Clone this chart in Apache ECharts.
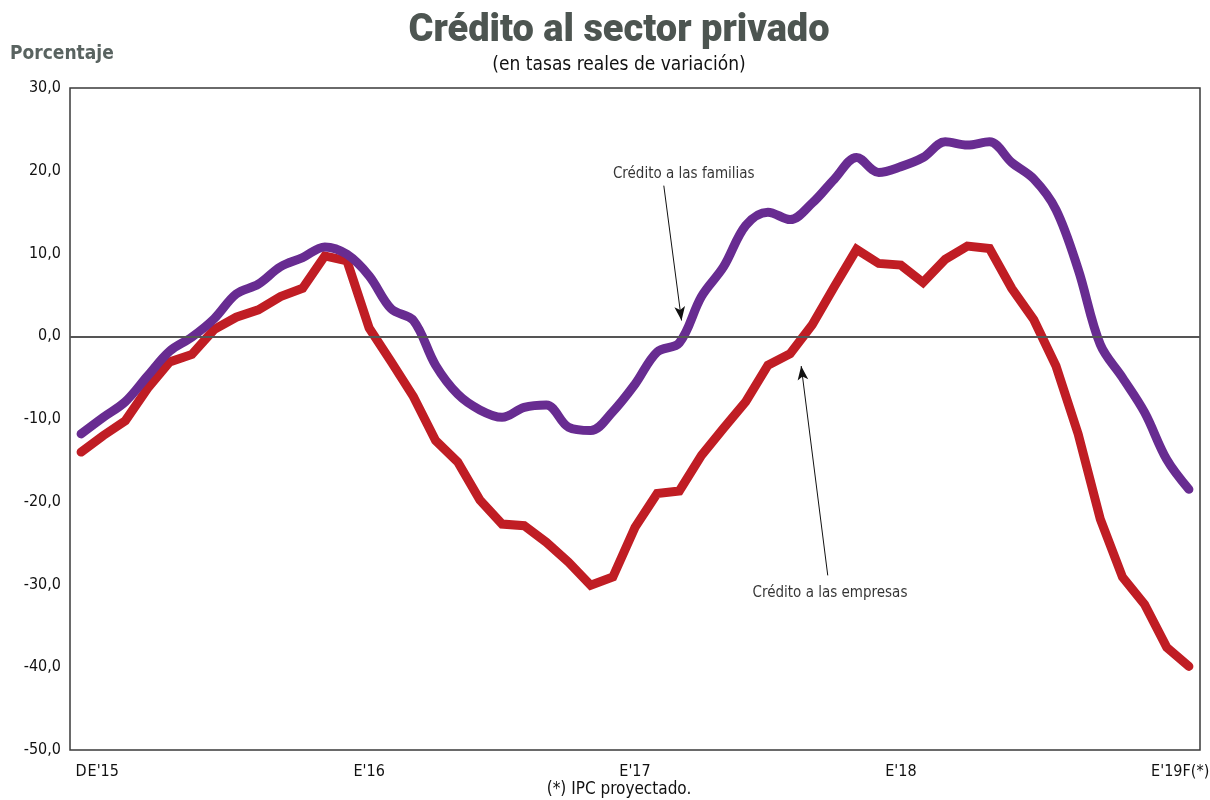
<!DOCTYPE html>
<html>
<head>
<meta charset="utf-8">
<script src="https://cdn.jsdelivr.net/npm/echarts@6/dist/echarts.min.js"></script>
<style>
  html, body { margin: 0; padding: 0; background: #ffffff; }
  #chart { width: 1210px; height: 800px; }
</style>
</head>
<body>
<div id="chart"></div>
<script>
// Monthly observations, December 2014 to February 2019
const categories = [
  "D'14","E'15","F'15","M'15","A'15","M'15","J'15","J'15","A'15","S'15","O'15","N'15","D'15",
  "E'16","F'16","M'16","A'16","M'16","J'16","J'16","A'16","S'16","O'16","N'16","D'16",
  "E'17","F'17","M'17","A'17","M'17","J'17","J'17","A'17","S'17","O'17","N'17","D'17",
  "E'18","F'18","M'18","A'18","M'18","J'18","J'18","A'18","S'18","O'18","N'18","D'18",
  "E'19","F'19"
];

// Labels printed under the horizontal axis ('' = no label)
const tickLabels = categories.map(function (c, i) {
  if (i === 0) return 'D';
  if (i === categories.length - 1) return 'F(*)';
  return c.charAt(0) === 'E' && c.length === 4 ? c : '';
});

// Real annual growth rates, %
const familias = [
  -11.8, -9.8, -7.9, -4.8, -1.8, -0.1, 2.1, 5.1, 6.3, 8.4, 9.5, 10.8, 9.9,
  7.3, 3.3, 1.9, -3.5, -7.0, -8.9, -9.8, -8.6, -8.3, -11.0, -11.4, -9.1,
  -5.8, -1.9, -0.8, 4.8, 8.4, 13.4, 15.0, 14.1, 16.1, 19.0, 21.6, 19.8,
  20.5, 21.6, 23.5, 23.1, 23.5, 21.0, 19.0, 15.3, 8.1, -1.0, -5.0, -9.2,
  -14.9, -18.5
];

const empresas = [
  -14.0, -12.0, -10.2, -6.3, -3.1, -2.2, 0.8, 2.3, 3.2, 4.8, 5.8, 9.7, 9.1,
  1.0, -3.1, -7.3, -12.6, -15.2, -19.8, -22.7, -22.9, -24.9, -27.3, -30.1, -29.1,
  -23.1, -19.0, -18.7, -14.4, -11.1, -7.9, -3.5, -2.1, 1.4, 6.0, 10.5, 8.8,
  8.6, 6.5, 9.3, 10.9, 10.6, 5.8, 2.0, -3.6, -11.8, -22.1, -29.1, -32.4,
  -37.6, -39.9
];

// Y axis range
const yMin = -50, yMax = 30, yStep = 10;

// Series callouts: text anchor and arrow (month index, value)
const callouts = [
  { text: 'Crédito a las familias', anchor: [27.2, 19.6], from: [26.3, 18.2], to: [27.1, 1.9] },
  { text: 'Crédito a las empresas', anchor: [33.8, -31.0], from: [33.7, -28.9], to: [32.5, -3.6] }
];

const FONT = "'DejaVu Sans Condensed', 'Liberation Sans Narrow', sans-serif";
const INK = '#111111';

const chart = echarts.init(document.getElementById('chart'), null, { renderer: 'canvas' });

chart.setOption({
  animation: false,
  backgroundColor: '#ffffff',
  textStyle: { fontFamily: FONT },
  title: [
    {
      text: 'Crédito al sector privado',
      left: 619, top: 12, textAlign: 'center', padding: 0,
      textStyle: { fontFamily: "Roboto, 'Open Sans', sans-serif", fontWeight: 900, fontSize: 38, color: '#4d5551' }
    },
    {
      text: '(en tasas reales de variación)',
      left: 619, top: 56, textAlign: 'center', padding: 0,
      textStyle: { fontFamily: FONT, fontWeight: 'normal', fontSize: 19, color: INK }
    },
    {
      text: 'Porcentaje',
      left: 10, top: 45, padding: 0,
      textStyle: { fontFamily: FONT, fontWeight: 'bold', fontSize: 19, color: '#596360' }
    },
    {
      text: '(*) IPC proyectado.',
      left: 619, top: 781, textAlign: 'center', padding: 0,
      textStyle: { fontFamily: FONT, fontWeight: 'normal', fontSize: 17, color: INK }
    }
  ],
  grid: {
    left: 70, right: 10, top: 88, bottom: 50,
    outerBoundsMode: 'none',
    containLabel: false,
    show: true, borderColor: '#3a3a3a', borderWidth: 1.5, backgroundColor: 'transparent'
  },
  xAxis: [
    {
      type: 'category',
      data: categories,
      boundaryGap: true,
      axisLine: { show: false },
      axisTick: { show: false },
      splitLine: { show: false },
      axisLabel: {
        interval: 0,
        margin: 14,
        fontFamily: FONT, fontSize: 16, color: INK,
        formatter: function (v, i) {
          if (i === categories.length - 1) return '{last|' + tickLabels[i] + '}';
          return tickLabels[i];
        },
        rich: {
          last: { fontFamily: FONT, fontSize: 16, color: INK, padding: [0, 0, 0, 14] }
        }
      }
    },
    {
      type: 'value', show: false,
      min: -0.5, max: categories.length - 0.5
    }
  ],
  yAxis: {
    type: 'value',
    min: yMin, max: yMax, interval: yStep,
    axisLine: { show: false },
    axisTick: { show: false },
    splitLine: { show: false },
    axisLabel: {
      margin: 9,
      fontFamily: FONT, fontSize: 16, color: INK,
      formatter: function (v) { return v.toFixed(1).replace('.', ','); }
    }
  },
  series: [
    {
      name: 'Crédito a las empresas',
      type: 'line',
      data: empresas,
      symbol: 'none',
      z: 3,
      lineStyle: { color: '#c01d24', width: 9, cap: 'round', join: 'miter' },
      markLine: {
        silent: true,
        symbol: 'none',
        label: { show: false },
        lineStyle: { color: '#555555', width: 2, type: 'solid' },
        data: [{ yAxis: 0 }]
      }
    },
    {
      name: 'Crédito a las familias',
      type: 'line',
      data: familias,
      symbol: 'none',
      smooth: 0.35,
      z: 4,
      lineStyle: { color: '#682c91', width: 9, cap: 'round' }
    },
    {
      name: 'callouts',
      type: 'scatter',
      xAxisIndex: 1,
      symbolSize: 0,
      z: 5,
      data: callouts.map(function (c) { return { value: c.anchor, name: c.text }; }),
      itemStyle: { color: '#000000' },
      label: {
        show: true, position: 'inside',
        fontFamily: FONT, fontSize: 15, color: '#000000',
        formatter: function (p) { return p.name; }
      },
      markLine: {
        silent: true,
        symbol: ['none', 'arrow'],
        symbolSize: [8, 14],
        label: { show: false },
        lineStyle: { color: INK, width: 1, type: 'solid' },
        data: callouts.map(function (c) {
          return [{ coord: c.from }, { coord: c.to }];
        })
      }
    }
  ]
});
</script>
</body>
</html>
